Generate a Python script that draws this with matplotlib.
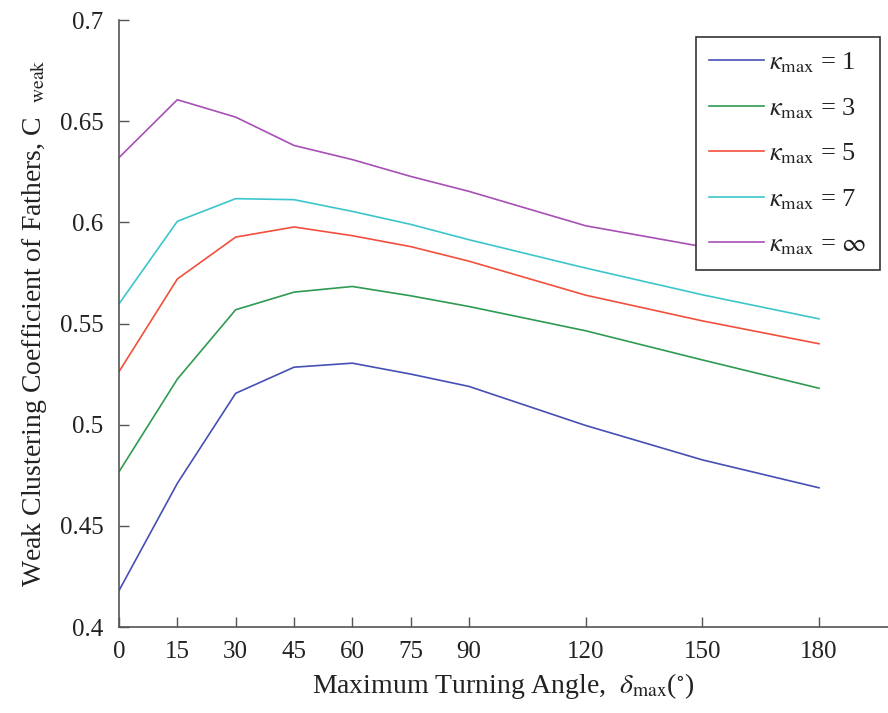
import matplotlib
matplotlib.use('Agg')
import matplotlib.pyplot as plt

# values
angles = [0, 15, 30, 45, 60, 75, 90, 120, 150, 180]
kappa_1 = [0.418, 0.471, 0.5155, 0.5284, 0.5304, 0.5250, 0.5189, 0.4996, 0.4826, 0.4688]
kappa_3 = [0.4767, 0.5225, 0.5568, 0.5655, 0.5683, 0.5637, 0.5584, 0.5464, 0.5320, 0.5180]
kappa_5 = [0.5262, 0.5720, 0.5927, 0.5977, 0.5934, 0.5880, 0.5808, 0.5640, 0.5513, 0.5400]
kappa_7 = [0.5597, 0.6005, 0.6117, 0.6112, 0.6054, 0.5990, 0.5914, 0.5774, 0.5642, 0.5523]
kappa_inf = [0.6320, 0.6606, 0.6520, 0.6380, 0.6310, 0.6227, 0.6153, 0.5983, 0.5880, 0.5790]

series = [
    (kappa_1, r'$\kappa_{\mathrm{max}}$ = 1', '#4650b4'),
    (kappa_3, r'$\kappa_{\mathrm{max}}$ = 3', '#2f9a52'),
    (kappa_5, r'$\kappa_{\mathrm{max}}$ = 5', '#f2503c'),
    (kappa_7, r'$\kappa_{\mathrm{max}}$ = 7', '#3cc6cc'),
    (kappa_inf, r'$\kappa_{\mathrm{max}}$ = $\infty$', '#a84fb6'),
]

x_ticks = [0, 15, 30, 45, 60, 75, 90, 120, 150, 180]
y_ticks = [0.4, 0.45, 0.5, 0.55, 0.6, 0.65, 0.7]

plt.rcParams['font.family'] = ['Liberation Serif', 'DejaVu Serif']
plt.rcParams['mathtext.fontset'] = 'stix'

fig = plt.figure(figsize=(8.88, 7.13), dpi=100)
ax = fig.add_axes([119 / 888, 86 / 713, 1 - 119 / 888, 607 / 713])

for vals, label, color in series:
    ax.plot(angles, vals, color=color, lw=1.2, label=label)

ax.set_xlim(0, (888 - 119) / (700 / 180))
ax.set_ylim(0.4, 0.7)
ax.set_xticks(x_ticks)
ax.set_xticklabels([str(t) for t in x_ticks])
ax.set_yticks(y_ticks)
ax.set_yticklabels(['0.4', '0.45', '0.5', '0.55', '0.6', '0.65', '0.7'])

axis_col = '#555555'
for side in ['top', 'right']:
    ax.spines[side].set_visible(False)
for side in ['left', 'bottom']:
    ax.spines[side].set_color(axis_col)
    ax.spines[side].set_linewidth(1.2)
ax.tick_params(direction='in', length=7, width=1, colors=axis_col,
               labelcolor='#222222', labelsize=18)
ax.tick_params(axis='x', pad=10)
ax.tick_params(axis='y', pad=11)

ax.set_xlabel(r'Maximum Turning Angle,  $\delta_{\mathrm{max}}$($^{\circ}$)', fontsize=20,
              color='#222222', labelpad=6)
ax.set_ylabel(r'Weak Clustering Coefficient of Fathers, C  $_{\mathrm{weak}}$', fontsize=20,
              color='#222222', labelpad=8)

leg = ax.legend(loc='upper right', bbox_to_anchor=(0.9896, 0.972), borderaxespad=0,
                fancybox=False, frameon=True, framealpha=1, fontsize=19, handlelength=2.1,
                handletextpad=0.2, labelspacing=0.8, borderpad=0.5)
leg.get_frame().set_edgecolor('#333333')
leg.get_frame().set_linewidth(1.2)
for t in leg.get_texts():
    t.set_color('#222222')

fig.savefig('out.png', dpi=100)
